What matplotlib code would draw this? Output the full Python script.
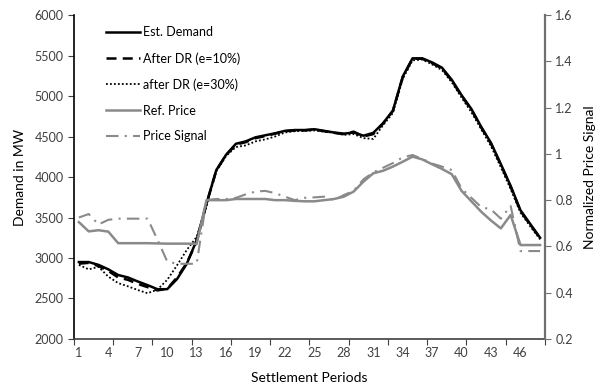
import numpy as np
import matplotlib
matplotlib.use('Agg')
import matplotlib.pyplot as plt

plt.rcParams['font.family'] = ['Lato', 'DejaVu Sans']

periods = np.arange(1, 49)

est_demand = [2950, 2950, 2915, 2860, 2790, 2760, 2710, 2665, 2615, 2615,
              2740, 2930, 3220, 3670, 4085, 4275, 4410, 4440, 4490, 4515,
              4540, 4570, 4580, 4580, 4590, 4570, 4550, 4535, 4550, 4510,
              4545, 4665, 4820, 5240, 5465, 5465, 5415, 5350, 5200, 5010,
              4840, 4620, 4420, 4160, 3890, 3590, 3420, 3250]
after_dr_10 = [2930, 2940, 2900, 2840, 2760, 2730, 2680, 2640, 2600, 2620,
               2760, 2940, 3200, 3670, 4080, 4270, 4400, 4430, 4480, 4505,
               4535, 4565, 4575, 4575, 4585, 4565, 4545, 4530, 4560, 4500,
               4530, 4660, 4815, 5230, 5460, 5460, 5405, 5340, 5190, 5000,
               4830, 4610, 4410, 4150, 3880, 3580, 3410, 3245]
after_dr_30 = [2915, 2860, 2890, 2770, 2690, 2650, 2605, 2565, 2610, 2730,
               2910, 3100, 3260, 3640, 4070, 4260, 4370, 4390, 4440, 4465,
               4500, 4550, 4565, 4570, 4575, 4560, 4545, 4520, 4530, 4480,
               4470, 4640, 4790, 5210, 5440, 5450, 5390, 5320, 5170, 4980,
               4800, 4590, 4380, 4120, 3850, 3560, 3390, 3230]
ref_price = [0.705, 0.665, 0.670, 0.664, 0.614, 0.614, 0.614, 0.614, 0.613, 0.612,
             0.612, 0.612, 0.611, 0.800, 0.800, 0.800, 0.805, 0.805, 0.805, 0.805,
             0.800, 0.800, 0.797, 0.795, 0.795, 0.800, 0.805, 0.815, 0.837, 0.880,
             0.916, 0.927, 0.945, 0.966, 0.988, 0.976, 0.955, 0.935, 0.912, 0.840,
             0.795, 0.750, 0.712, 0.678, 0.736, 0.606, 0.606, 0.606]
price_signal = [0.725, 0.740, 0.695, 0.715, 0.720, 0.720, 0.720, 0.720, 0.630, 0.535,
                0.525, 0.525, 0.525, 0.800, 0.805, 0.805, 0.810, 0.825, 0.837, 0.840,
                0.830, 0.815, 0.800, 0.810, 0.812, 0.815, 0.800, 0.822, 0.840, 0.890,
                0.920, 0.940, 0.960, 0.985, 0.995, 0.978, 0.958, 0.945, 0.930, 0.850,
                0.810, 0.770, 0.760, 0.720, 0.775, 0.580, 0.580, 0.580]

xticks = list(range(1, 47, 3))
gray = '#8a8a8a'

fig = plt.figure(figsize=(6.05, 3.88), dpi=100)
ax = fig.add_axes([0.1223, 0.1263, 0.7785, 0.835])
ax2 = ax.twinx()

l1, = ax.plot(periods, est_demand, color='black', lw=1.8, label='Est. Demand')
l2, = ax.plot(periods, after_dr_10, color='black', lw=1.8, ls=(0, (4, 2.5)),
              label='After DR (e=10%)')
l3, = ax.plot(periods, after_dr_30, color='black', lw=1.3, ls=(0, (1, 1.2)),
              label='after DR (e=30%)')
l4, = ax2.plot(periods, ref_price, color=gray, lw=1.8, label='Ref. Price')
l5, = ax2.plot(periods, price_signal, color=gray, lw=1.5,
               ls=(0, (6, 3, 1, 3)), label='Price Signal')

ax.set_xlim(0.5, 48.5)
ax.set_ylim(2000, 6000)
ax.set_yticks(np.arange(2000, 6001, 500))
ax2.set_ylim(0.2, 1.6)
ax2.set_yticks([0.2, 0.4, 0.6, 0.8, 1.0, 1.2, 1.4, 1.6])
ax2.set_yticklabels(['0.2', '0.4', '0.6', '0.8', '1', '1.2', '1.4', '1.6'])

# category axis: labels every 3, tick marks every 4 between categories
ax.set_xticks(np.arange(0.5, 48.6, 4))
ax.set_xticklabels([])
ax.set_xticks(xticks, minor=True)
ax.set_xticklabels([str(t) for t in xticks], minor=True)
ax.tick_params(axis='x', which='minor', length=0, pad=6)
ax.tick_params(axis='x', which='major', length=4, direction='out', color='#404040')

for a in (ax, ax2):
    a.spines['top'].set_visible(False)
ax.spines['right'].set_visible(False)
ax.spines['left'].set_color('black')
ax.spines['left'].set_linewidth(1.2)
ax.spines['bottom'].set_color('#404040')
ax.spines['bottom'].set_linewidth(1.2)
ax2.spines['left'].set_visible(False)
ax2.spines['bottom'].set_visible(False)
ax2.spines['right'].set_color('#707070')
ax2.spines['right'].set_linewidth(1.6)

ax.tick_params(axis='y', length=4, direction='out', labelsize=9, colors='#404040')
ax.tick_params(axis='x', labelsize=9, labelcolor='#404040', which='both')
ax2.tick_params(axis='y', length=4, direction='out', labelsize=9,
                colors='#707070', labelcolor='#404040')

ax.set_ylabel('Demand in MW', fontsize=10, labelpad=6)
ax.set_xlabel('Settlement Periods', fontsize=10, labelpad=9)
ax2.set_ylabel('Normalized Price Signal', fontsize=10, labelpad=8)

leg = ax.legend(handles=[l1, l2, l3, l4, l5], loc='upper left',
                bbox_to_anchor=(0.045, 1.0), frameon=False, fontsize=9,
                handlelength=2.7, handletextpad=0.25, labelspacing=1.1)

fig.savefig('out.png', dpi=100)
